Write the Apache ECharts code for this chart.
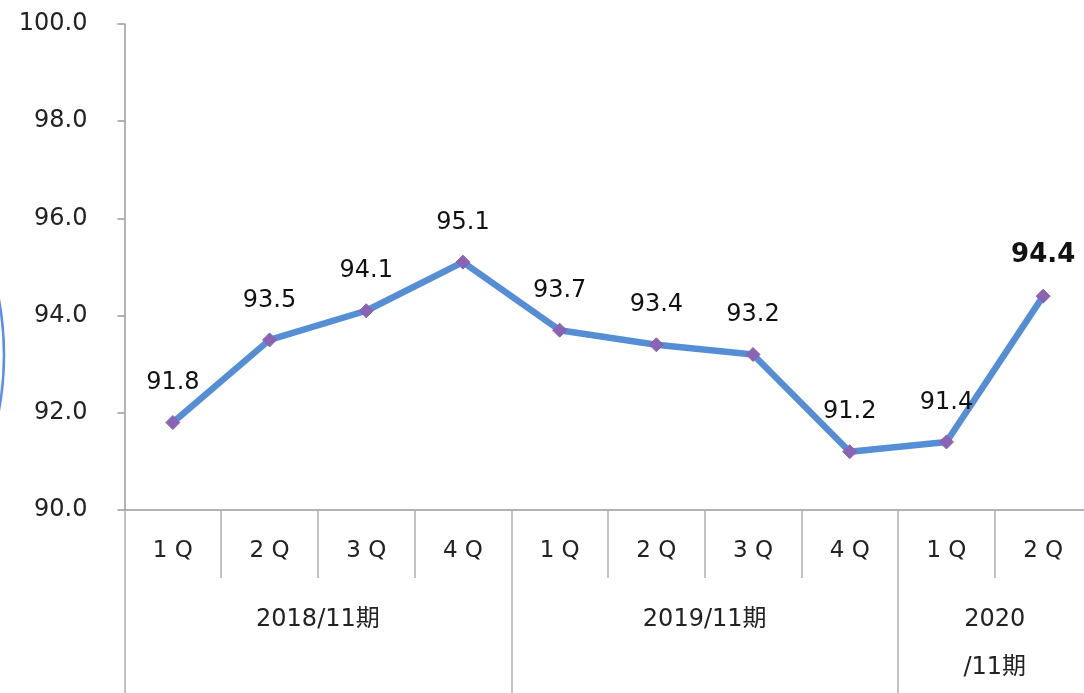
<!DOCTYPE html>
<html>
<head>
<meta charset="utf-8">
<script src="https://cdn.jsdelivr.net/npm/echarts@6/dist/echarts.min.js"></script>
<style>
html,body{margin:0;padding:0;background:#fff;}
#chart{width:1084px;height:693px;}
</style>
</head>
<body>
<div id="chart"></div>
<script>
const quarters = ['1 Q','2 Q','3 Q','4 Q','1 Q','2 Q','3 Q','4 Q','1 Q','2 Q'];
const values = [91.8, 93.5, 94.1, 95.1, 93.7, 93.4, 93.2, 91.2, 91.4, 94.4];
const groupLabels = ['', '', '2018/11期', '', '', '', '2019/11期', '', '', '2020\n/11期', ''];
const groupBoundaries = [0, 4, 8, 10];
const yMin = 90, yMax = 100, yStep = 2;

const FONT = "'DejaVu Sans', 'Noto Sans CJK JP', sans-serif";
const chart = echarts.init(document.getElementById('chart'));

const seriesData = values.map((v, i) => {
  if (i === values.length - 1) {
    return { value: v, label: { fontWeight: 'bold', fontSize: 26, distance: 20 } };
  }
  return v;
});

chart.setOption({
  animation: false,
  backgroundColor: '#ffffff',
  textStyle: { fontFamily: FONT },
  grid: { left: 124.5, width: 967, top: 24, bottom: 183, containLabel: false, outerBoundsMode: 'none' },
  xAxis: [
    {
      type: 'category',
      data: quarters,
      boundaryGap: true,
      position: 'bottom',
      axisLine: { show: true, lineStyle: { color: '#9a9a9a', width: 1.5 } },
      axisTick: { show: true, interval: 0, length: 68, lineStyle: { color: '#b0b0b0', width: 1.5 } },
      axisLabel: { interval: 0, margin: 30, fontSize: 23, color: '#222', fontFamily: FONT }
    },
    {
      type: 'category',
      data: groupLabels,
      boundaryGap: false,
      position: 'bottom',
      axisLine: { show: false },
      axisTick: {
        show: true,
        length: 183,
        interval: function (idx) { return groupBoundaries.indexOf(idx) >= 0; },
        lineStyle: { color: '#b0b0b0', width: 1.5 }
      },
      axisLabel: { interval: 0, margin: 86, fontSize: 24, lineHeight: 48, color: '#222', fontFamily: FONT }
    }
  ],
  yAxis: {
    type: 'value',
    min: yMin,
    max: yMax,
    interval: yStep,
    axisLine: { show: true, lineStyle: { color: '#9a9a9a', width: 1.5 } },
    axisTick: { show: true, inside: false, length: 7, lineStyle: { color: '#9a9a9a', width: 1.5 } },
    splitLine: { show: false },
    axisLabel: { margin: 37, fontSize: 24, color: '#222', fontFamily: FONT, formatter: v => v.toFixed(1) }
  },
  series: [{
    type: 'line',
    xAxisIndex: 0,
    data: seriesData,
    symbol: 'diamond',
    symbolSize: 14,
    lineStyle: { color: '#558ED5', width: 6.5 },
    itemStyle: { color: '#8A63B3', borderColor: '#8A63B3', borderWidth: 1 },
    label: {
      show: true,
      position: 'top',
      distance: 20,
      fontSize: 24,
      color: '#111',
      fontFamily: FONT,
      formatter: p => p.value.toFixed(1)
    },
    z: 3
  }],
  graphic: [{
    type: 'circle',
    shape: { cx: -300, cy: 355, r: 304 },
    style: { fill: 'none', stroke: '#5B8CF5', lineWidth: 2.5 },
    silent: true
  }]
});
</script>
</body>
</html>
